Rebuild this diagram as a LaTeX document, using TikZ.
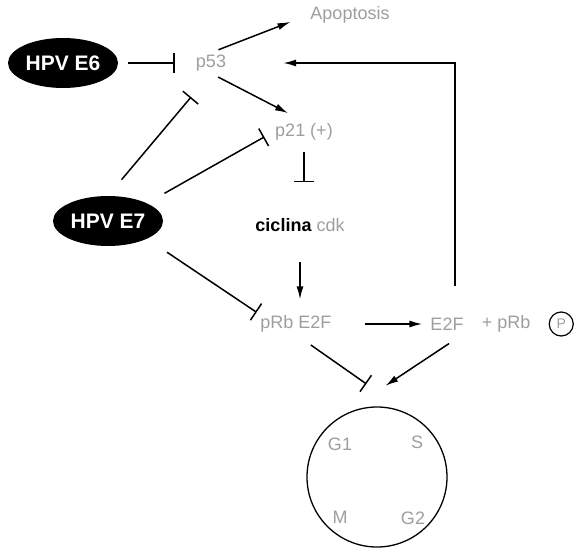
\documentclass[tikz,border=0pt]{standalone}
\usepackage{fontspec}
\setmainfont{Liberation Sans}
\usetikzlibrary{arrows.meta,shapes.geometric,positioning,calc}

\begin{document}
\begin{tikzpicture}[x=1pt,y=-1pt,
	virus/.style={ ellipse, fill=black, text=white, font=\fontsize{21}{24}\selectfont\bfseries, minimum width=110pt, minimum height=50pt, inner sep=0pt },
	faint/.style={ text=black!38, font=\fontsize{18}{21}\selectfont, inner sep=2pt },
	link/.style={ line width=1.5pt },
	act/.style={ link, -{Latex[length=13pt,width=7pt]} },
	block/.style={ link, -{Bar[width=20pt]} }
]
\useasboundingbox (0,0) rectangle (579,549);

% proteins and viral oncoproteins
\node at (63,63) (e6) [virus] {HPV E6};
\node at (108,221) (e7) [virus] {HPV E7};
\node at (211,63) (p53) [faint] {p53};
\node at (350,15) (apop) [faint] {Apoptosis};
\node at (304,132) (p21) [faint] {p21 (+)};
\node at (300,225) (cdk) [faint] {\textcolor{black}{\bfseries ciclina} cdk};
\node at (296,324) (prb) [faint] {pRb E2F};
\node at (447,324) (e2f) [faint] {E2F};
\node [faint, right=14pt of e2f] (prbp) {+ pRb};
\node [circle, draw, line width=1.2pt, text=black!38, font=\fontsize{14}{16}\selectfont, minimum size=24pt, inner sep=0pt, right=16pt of prbp] (pc) {P};

% cell cycle
\node at (377,477) (cycle) [circle, draw, line width=1.3pt, minimum size=140pt] {};
\node at ($(cycle)+(-37,-33)$) (g1) [faint] {G1};
\node at ($(cycle)+(40,-35)$) (s) [faint] {S};
\node at ($(cycle)+(-37,40)$) (m) [faint] {M};
\node at ($(cycle)+(36,41)$) (g2) [faint] {G2};
\coordinate (gate) at ($(cycle.north)+(0,-15)$);

% interactions
\draw[block, shorten <=10pt, shorten >=19pt] (e6.east) to (p53.west);
\draw[act, shorten <=8pt, shorten >=19pt] (p53.north) to (apop.west);
\draw[act, shorten <=8pt, shorten >=18pt] (p53.south) to (p21.north);
\draw[block, shorten <=21pt, shorten >=31pt] (e7.north) to (p53.south);
\draw[block, shorten <=20pt, shorten >=10pt] (e7.north east) to (p21.west);
\draw[block, shorten <=24pt, shorten >=2pt] (e7.south east) to (prb.north west);
\draw[block, shorten <=9pt, shorten >=34pt] (p21.south) to (p21.south |- cdk.north);
\draw[act, shorten <=28pt, shorten >=14pt] (cdk.south) to (cdk.south |- prb.north);
\draw[act, shorten <=31pt, shorten >=6pt] (prb.east) to (e2f.west);
\draw[act, shorten <=30pt, shorten >=55pt] ([xshift=8pt]e2f.north) |- (p53.east);
\draw[act, shorten <=20pt, shorten >=10pt] (e2f.south east) to (gate);
\draw[block, shorten <=18pt, shorten >=13pt] (prb.south) to (gate);

\end{tikzpicture}
\end{document}
